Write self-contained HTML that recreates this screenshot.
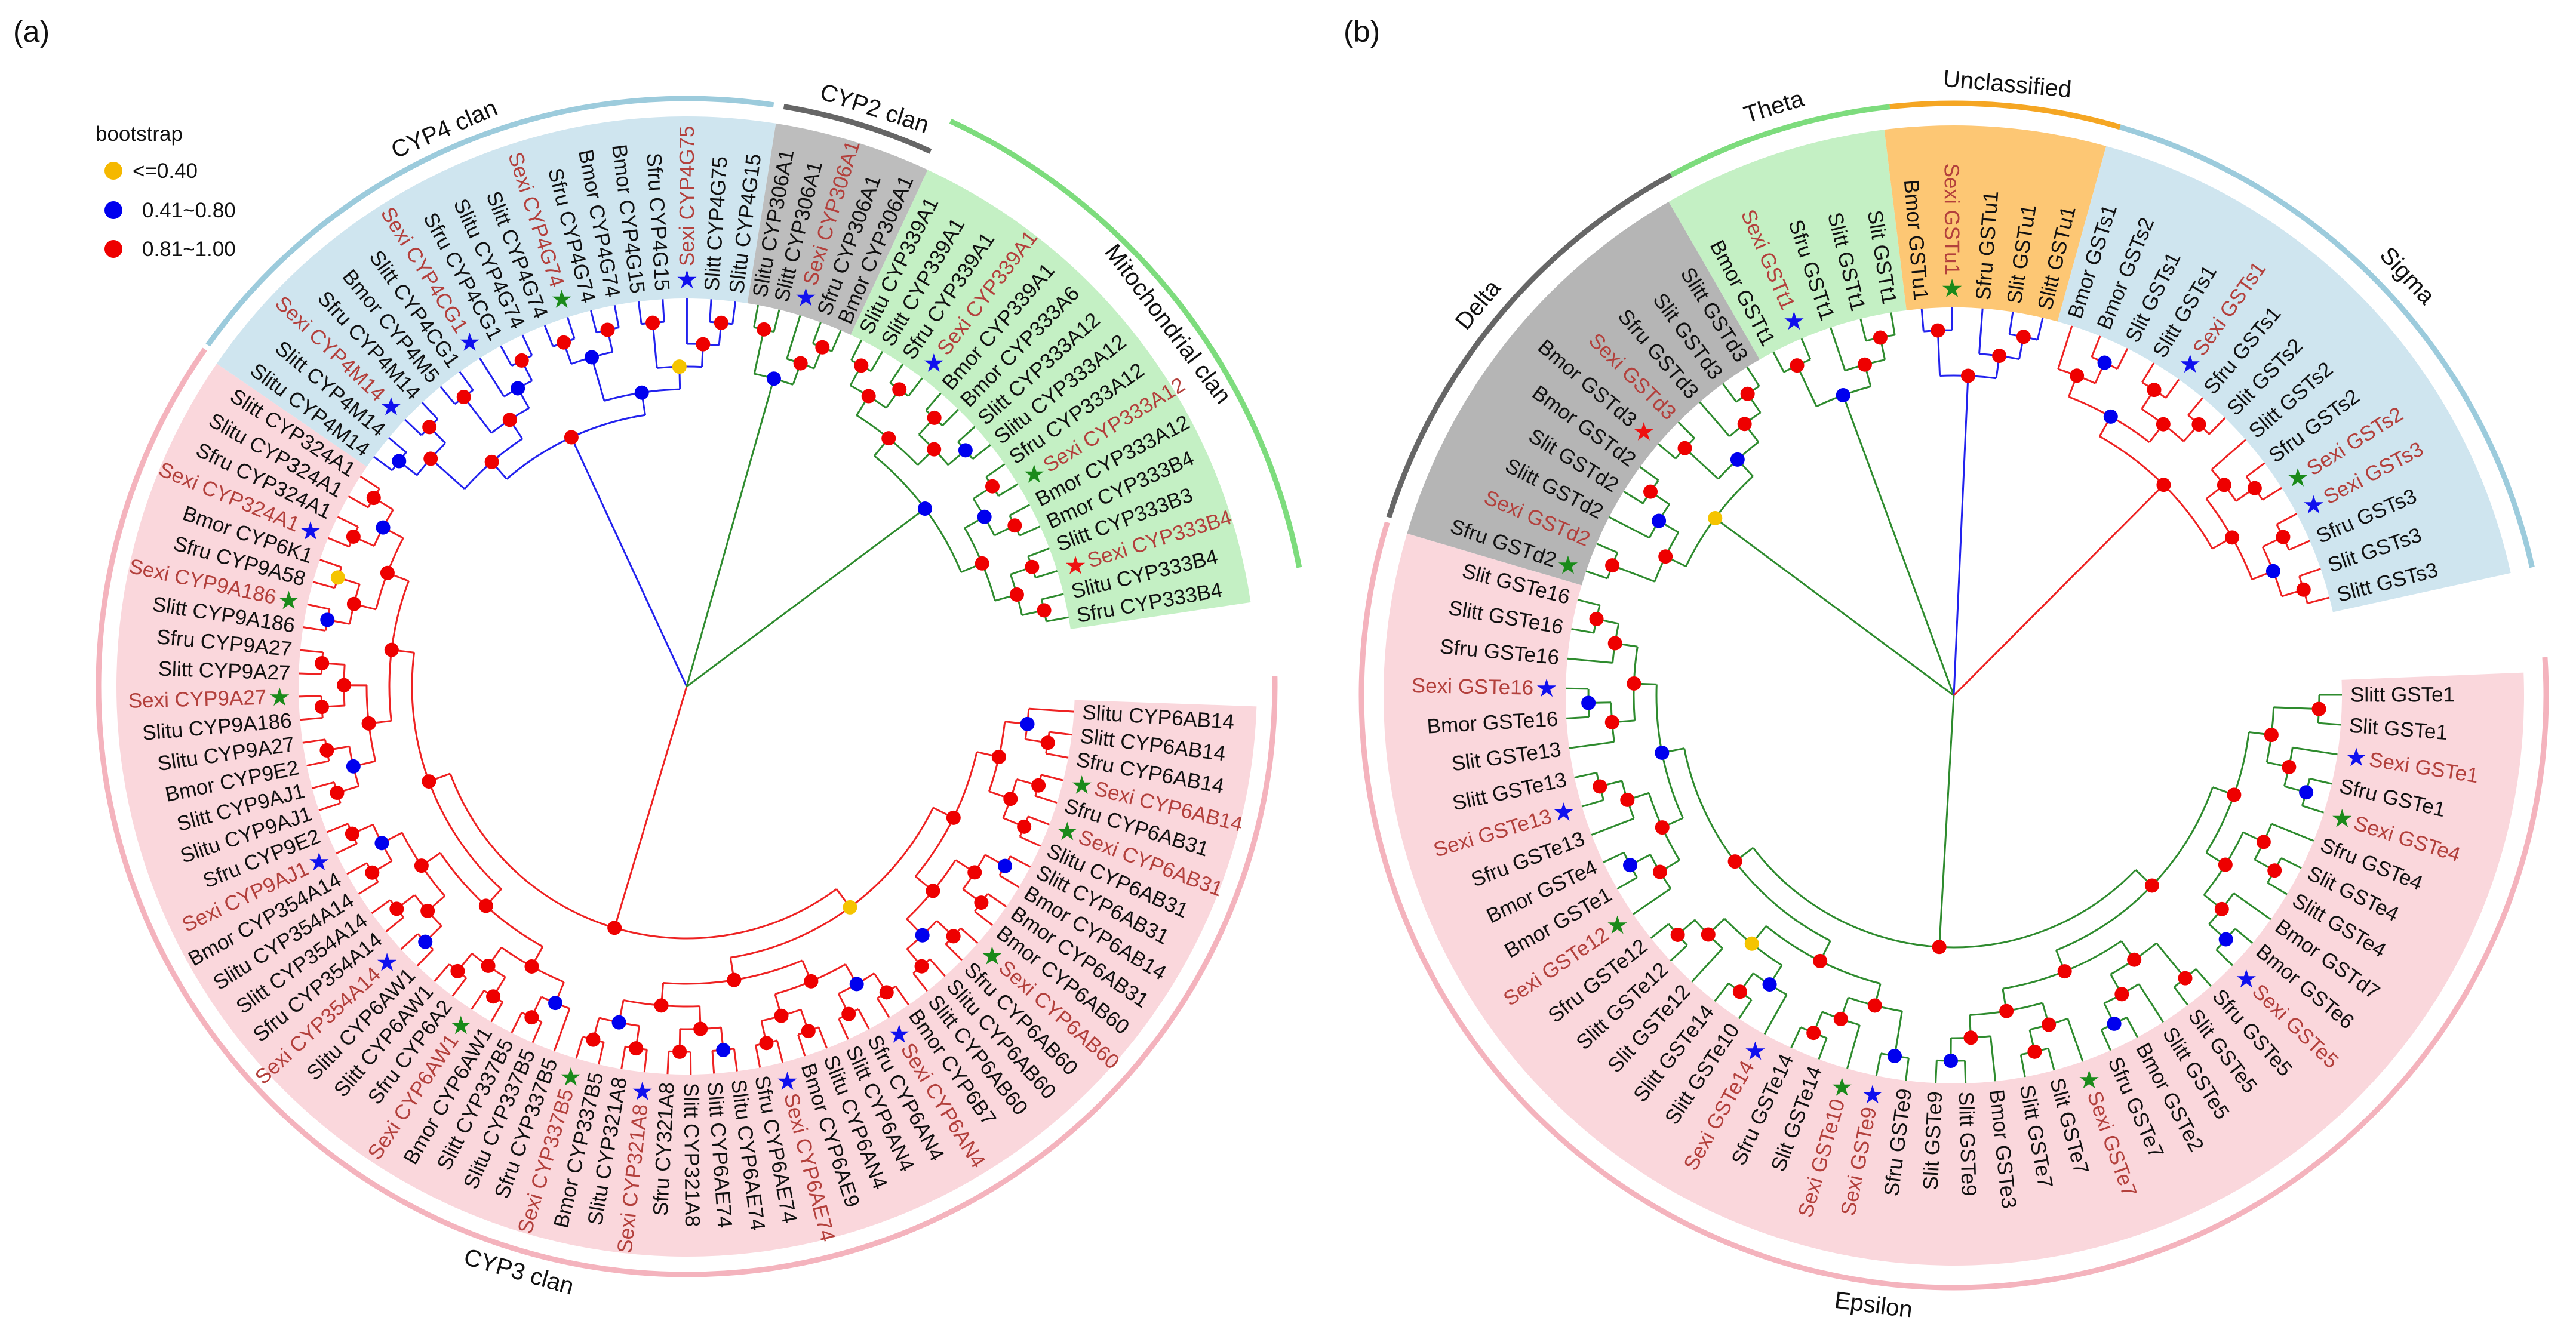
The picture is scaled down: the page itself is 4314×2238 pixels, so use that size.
<!DOCTYPE html>
<html><head><meta charset="utf-8">
<style>
html,body{margin:0;padding:0;background:#fff;}
svg{display:block;font-family:"Liberation Sans",Arial,sans-serif;}
</style></head>
<body>
<svg id="fig" width="4314" height="2238" viewBox="0 0 4314 2238" xmlns="http://www.w3.org/2000/svg">
<rect width="4314" height="2238" fill="#fff"/>
<text x="22" y="70" font-size="50" fill="#111">(a)</text>
<text x="2250" y="70" font-size="50" fill="#111">(b)</text>
<g>
<text x="160" y="236" font-size="35" fill="#111">bootstrap</text>
<circle cx="190" cy="286" r="15" fill="#f5b800"/>
<text x="222" y="298" font-size="35" fill="#111">&lt;=0.40</text>
<circle cx="190" cy="352" r="15" fill="#0000ee"/>
<text x="238" y="364" font-size="35" fill="#111">0.41~0.80</text>
<circle cx="190" cy="417" r="15" fill="#ee0000"/>
<text x="238" y="429" font-size="35" fill="#111">0.81~1.00</text>
</g>
<g id="treeA"></g>
<g id="treeB"></g>
</svg>
<script>
// ---- Leaf label data (clockwise order). Suffix *b / *g / *r marks a star of that colour.
const CYP_PINK = ["Slitu CYP6AB14","Slitt CYP6AB14","Sfru CYP6AB14","Sexi CYP6AB14*g","Sfru CYP6AB31","Sexi CYP6AB31*g","Slitu CYP6AB31","Slitt CYP6AB31","Bmor CYP6AB14","Bmor CYP6AB31","Bmor CYP6AB60","Sexi CYP6AB60*g","Sfru CYP6AB60","Slitu CYP6AB60","Slitt CYP6AB60","Bmor CYP6B7","Sexi CYP6AN4*b","Sfru CYP6AN4","Slitt CYP6AN4","Slitu CYP6AN4","Bmor CYP6AE9","Sexi CYP6AE74*b","Sfru CYP6AE74","Slitu CYP6AE74","Slitt CYP6AE74","Slitt CYP321A8","Sfru CY321A8","Sexi CYP321A8*b","Slitu CYP321A8","Bmor CYP337B5","Sexi CYP337B5*g","Sfru CYP337B5","Slitu CYP337B5","Slitt CYP337B5","Bmor CYP6AW1","Sexi CYP6AW1*g","Sfru CYP6A2","Slitt CYP6AW1","Slitu CYP6AW1","Sexi CYP354A14*b","Sfru CYP354A14","Slitt CYP354A14","Slitu CYP354A14","Bmor CYP354A14","Sexi CYP9AJ1*b","Sfru CYP9E2","Slitu CYP9AJ1","Slitt CYP9AJ1","Bmor CYP9E2","Slitu CYP9A27","Slitu CYP9A186","Sexi CYP9A27*g","Slitt CYP9A27","Sfru CYP9A27","Slitt CYP9A186","Sexi CYP9A186*g","Sfru CYP9A58","Bmor CYP6K1","Sexi CYP324A1*b","Sfru CYP324A1","Slitu CYP324A1","Slitt CYP324A1"];
const CYP_BLUE = ["Slitu CYP4M14","Slitt CYP4M14","Sexi CYP4M14*b","Sfru CYP4M14","Bmor CYP4M5","Slitt CYP4CG1","Sexi CYP4CG1*b","Sfru CYP4CG1","Slitu CYP4G74","Slitt CYP4G74","Sexi CYP4G74*g","Sfru CYP4G74","Bmor CYP4G74","Bmor CYP4G15","Sfru CYP4G15","Sexi CYP4G75*b","Slitt CYP4G75","Slitu CYP4G15"];
const CYP_GRAY = ["Slitu CYP306A1","Slitt CYP306A1","Sexi CYP306A1*b","Sfru CYP306A1","Bmor CYP306A1"];
const CYP_GREEN = ["Slitu CYP339A1","Slitt CYP339A1","Sfru CYP339A1","Sexi CYP339A1*b","Bmor CYP339A1","Bmor CYP333A6","Slitt CYP333A12","Slitu CYP333A12","Sfru CYP333A12","Sexi CYP333A12*g","Bmor CYP333A12","Bmor CYP333B4","Slitt CYP333B3","Sexi CYP333B4*r","Slitu CYP333B4","Sfru CYP333B4"];
const GST_EPS = ["Slitt GSTe1","Slit GSTe1","Sexi GSTe1*b","Sfru GSTe1","Sexi GSTe4*g","Sfru GSTe4","Slit GSTe4","Slitt GSTe4","Bmor GSTd7","Bmor GSTe6","Sexi GSTe5*b","Sfru GSTe5","Slit GSTe5","Slitt GSTe5","Bmor GSTe2","Sfru GSTe7","Sexi GSTe7*g","Slit GSTe7","Slitt GSTe7","Bmor GSTe3","Slitt GSTe9","Slit GSTe9","Sfru GSTe9","Sexi GSTe9*b","Sexi GSTe10*g","Slit GSTe14","Sfru GSTe14","Sexi GSTe14*b","Slitt GSTe10","Slitt GSTe14","Slit GSTe12","Slitt GSTe12","Sfru GSTe12","Sexi GSTe12*g","Bmor GSTe1","Bmor GSTe4","Sfru GSTe13","Sexi GSTe13*b","Slitt GSTe13","Slit GSTe13","Bmor GSTe16","Sexi GSTe16*b","Sfru GSTe16","Slitt GSTe16","Slit GSTe16"];
const GST_DELTA = ["Sfru GSTd2*g","Sexi GSTd2","Slitt GSTd2","Slit GSTd2","Bmor GSTd2","Bmor GSTd3*r","Sexi GSTd3","Sfru GSTd3","Slit GSTd3","Slitt GSTd3"];
const GST_THETA = ["Bmor GSTt1","Sexi GSTt1*b","Sfru GSTt1","Slitt GSTt1","Slit GSTt1"];
const GST_UNCL = ["Bmor GSTu1","Sexi GSTu1*g","Sfru GSTu1","Slit GSTu1","Slitt GSTu1"];
const GST_SIGMA = ["Bmor GSTs1","Bmor GSTs2","Slit GSTs1","Slitt GSTs1","Sexi GSTs1*b","Sfru GSTs1","Slit GSTs2","Slitt GSTs2","Sfru GSTs2","Sexi GSTs2*g","Sexi GSTs3*b","Sfru GSTs3","Slit GSTs3","Slitt GSTs3"];
const CYP_CLADES = ["CYP4 clan","CYP2 clan","Mitochondrial clan","CYP3 clan"];
const GST_CLADES = ["Delta","Theta","Unclassified","Sigma","Epsilon"];

const NS="http://www.w3.org/2000/svg";
function mk(tag, attrs, parent){const e=document.createElementNS(NS,tag);for(const k in attrs)e.setAttribute(k,attrs[k]);parent.appendChild(e);return e;}
const rad=d=>d*Math.PI/180;

function drawTree(g, cx, cy, segs, clades){
  const P=(r,a)=>[cx+r*Math.cos(rad(a)), cy+r*Math.sin(rad(a))];
  const RT=650, RIN=650, ROUT=955, STEP=38;
  const arcPath=(r,a0,a1)=>{const [x0,y0]=P(r,a0),[x1,y1]=P(r,a1);const sw=a1>a0?1:0;const lg=Math.abs(a1-a0)>180?1:0;return `M${x0},${y0}A${r},${r} 0 ${lg} ${sw} ${x1},${y1}`;};
  const bg=mk('g',{},g); const br=mk('g',{},g); const dots=mk('g',{},g); const txt=mk('g',{},g);
  const roots=[];
  let nodeCount=0;
  segs.forEach((s,si)=>{
    const [ox0,oy0]=P(ROUT,s.a0),[ox1,oy1]=P(ROUT,s.a1),[ix1,iy1]=P(RIN,s.a1),[ix0,iy0]=P(RIN,s.a0);
    const lg=(s.a1-s.a0)>180?1:0;
    const f=mk('path',{d:`M${ox0},${oy0}A${ROUT},${ROUT} 0 ${lg} 1 ${ox1},${oy1}L${ix1},${iy1}A${RIN},${RIN} 0 ${lg} 0 ${ix0},${iy0}Z`,fill:s.fill},bg);
    
    
    const ring=mk('path',{d:arcPath(s.ringR,s.ra0,s.ra1),fill:'none',stroke:s.ring,'stroke-width':9},bg);
    
    
    const n=s.labels.length, da=(s.a1-s.a0)/n;
    const leaves=s.labels.map((lab,i)=>{
      const a=s.a0+(i+0.5)*da;
      const parts=lab.split('*'); const name=parts[0]; const star=parts[1];
      const red=name.startsWith('Sexi');
      const right=Math.cos(rad(a))>=0;
      const r0=star?704:664;
      const t=mk('text',{'font-size':35,fill:red?'#b3403c':'#111','dominant-baseline':'central'},txt);
      if(right){t.setAttribute('transform',`translate(${cx},${cy}) rotate(${a})`);t.setAttribute('x',r0);}
      else{t.setAttribute('transform',`translate(${cx},${cy}) rotate(${a+180})`);t.setAttribute('x',-r0);t.setAttribute('text-anchor','end');}
      t.textContent=name;
      
      
      if(star){
        const [sx,sy]=P(682,a);
        const st=mk('text',{x:sx,y:sy,'font-size':42,'text-anchor':'middle','dominant-baseline':'central',fill:star==='b'?'#1010ee':star==='g'?'#1a8a1a':'#ee1111'},txt);
        st.textContent='★';
        
        
      }
      return {a:a,r:RT};
    });
    function build(lo,hi){
      if(lo===hi) return leaves[lo];
      const mid=Math.floor((lo+hi+1)/2);
      const c0=build(lo,mid-1), c1=build(mid,hi);
      const r=Math.min(c0.r,c1.r)-STEP;
      const node={a:(c0.a+c1.a)/2,r:r};
      const d=[arcPath(r,c0.a,c1.a)];
      [c0,c1].forEach(c=>{const [x0,y0]=P(r,c.a),[x1,y1]=P(c.r,c.a);d.push(`M${x0},${y0}L${x1},${y1}`);});
      const p=mk('path',{d:d.join(''),fill:'none',stroke:s.branch,'stroke-width':3},br);
      
      
      nodeCount++;
      const col=(nodeCount%5===2)?'#0000ee':(nodeCount%23===7?'#f5c400':'#ee0000');
      const [dx,dy]=P(r,node.a);
      const dot=mk('circle',{cx:dx,cy:dy,r:12,fill:col},dots);
      
      
      return node;
    }
    const root=build(0,n-1);
    roots.push({a:root.a,r:root.r,color:s.branch});
  });
  const RC=70;
  roots.forEach(rt=>{
    const [x0,y0]=P(rt.r,rt.a),[x1,y1]=P(RC,rt.a);
    const p=mk('path',{d:`M${x0},${y0}L${x1},${y1}L${cx},${cy}`,fill:'none',stroke:rt.color,'stroke-width':3},br);
    
    
  });
  clades.forEach(c=>{
    const [x,y]=P(c.r,c.a);
    const bottom=Math.sin(rad(c.a))>0.5;
    const t=mk('text',{x:0,y:0,'font-size':40,fill:'#111','text-anchor':'middle',transform:`translate(${x},${y}) rotate(${bottom?c.a-90:c.a+90})`},txt);
    if(bottom) t.setAttribute('dominant-baseline','hanging');
    t.textContent=c.text;
    
    
  });
}

drawTree(document.getElementById('treeA'),1150,1150,[
  {name:'cyp3-clan',labels:CYP_PINK,a0:2,a1:214.5,fill:'#fad7dc',branch:'#ee2222',ring:'#f4b3bd',ringR:985,ra0:-1,ra1:215},
  {name:'cyp4-clan',labels:CYP_BLUE,a0:-145.5,a1:-81,fill:'#cfe5ef',branch:'#2222ee',ring:'#9ccbdc',ringR:985,ra0:-144.5,ra1:-81.5},
  {name:'cyp2-clan',labels:CYP_GRAY,a0:-81,a1:-65,fill:'#bdbdbd',branch:'#2e8b2e',ring:'#666666',ringR:985,ra0:-80.5,ra1:-65.5},
  {name:'mitochondrial-clan',labels:CYP_GREEN,a0:-65,a1:-8.5,fill:'#c4f0c4',branch:'#2e8b2e',ring:'#7ddc7d',ringR:1045,ra0:-65,ra1:-11}
],[
  {text:CYP_CLADES[0],a:-113.5,r:1005},
  {text:CYP_CLADES[1],a:-72,r:1005},
  {text:CYP_CLADES[2],a:-37,r:996},
  {text:CYP_CLADES[3],a:106,r:1005}
]);

drawTree(document.getElementById('treeB'),3272,1165,[
  {name:'epsilon',labels:GST_EPS,a0:-2.3,a1:196.5,fill:'#fad7dc',branch:'#2e8b2e',ring:'#f4b3bd',ringR:992,ra0:-3.7,ra1:197},
  {name:'delta',labels:GST_DELTA,a0:196.5,a1:240,fill:'#b5b5b5',branch:'#2e8b2e',ring:'#666666',ringR:992,ra0:197.5,ra1:241.5},
  {name:'theta',labels:GST_THETA,a0:240,a1:263,fill:'#c4f0c4',branch:'#2e8b2e',ring:'#7ddc7d',ringR:992,ra0:241.5,ra1:263.8},
  {name:'unclassified',labels:GST_UNCL,a0:263,a1:285.5,fill:'#fdc774',branch:'#2222ee',ring:'#f5a623',ringR:992,ra0:263.8,ra1:286.3},
  {name:'sigma',labels:GST_SIGMA,a0:285.5,a1:347.6,fill:'#cfe5ef',branch:'#ee2222',ring:'#9ccbdc',ringR:992,ra0:286.3,ra1:347.5}
],[
  {text:GST_CLADES[0],a:-140.6,r:1018},
  {text:GST_CLADES[1],a:-107,r:1018},
  {text:GST_CLADES[2],a:-85,r:1015},
  {text:GST_CLADES[3],a:-42.8,r:1022},
  {text:GST_CLADES[4],a:97.5,r:1015}
]);
</script>
</body></html>
